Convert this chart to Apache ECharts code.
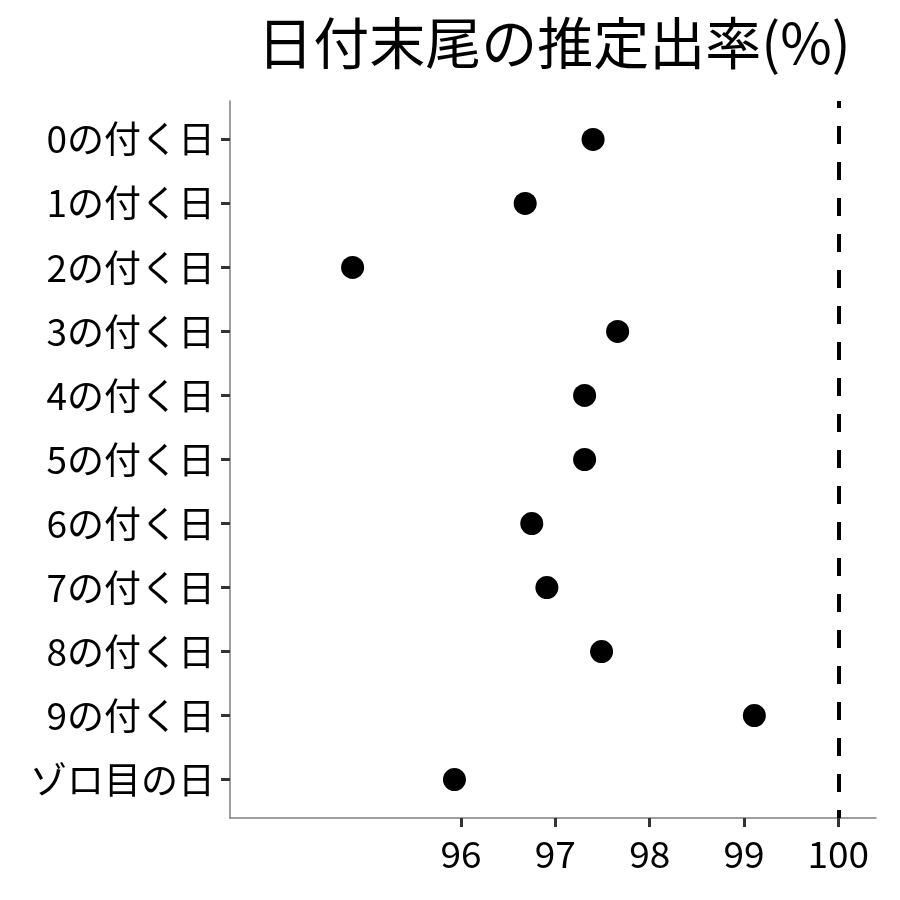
<!DOCTYPE html>
<html>
<head>
<meta charset="utf-8">
<script src="https://cdn.jsdelivr.net/npm/echarts@6/dist/echarts.min.js"></script>
<style>
  html, body { margin: 0; padding: 0; background: #fff; }
  #chart { width: 900px; height: 900px; }
</style>
</head>
<body>
<div id="chart"></div>
<script>
// 日付末尾ごとの推定出率
var categories = ['0の付く日', '1の付く日', '2の付く日', '3の付く日', '4の付く日',
    '5の付く日', '6の付く日', '7の付く日', '8の付く日', '9の付く日', 'ゾロ目の日'];
var rates = [97.40, 96.68, 94.85, 97.66, 97.31, 97.31, 96.75, 96.91, 97.49, 99.11, 95.93];
var xTicks = [96, 97, 98, 99, 100];
var refLine = 100;

var font = 'Noto Sans CJK JP';
var chart = echarts.init(document.getElementById('chart'));

var points = rates.map(function (v, i) { return [v, i]; });
var yTicks = categories.map(function (c, i) { return i; });

chart.setOption({
    animation: false,
    title: {
        text: '日付末尾の推定出率(%)',
        left: 549,
        top: 10,
        textAlign: 'center',
        textStyle: { fontFamily: font, fontSize: 56, fontWeight: 'normal', color: '#000' }
    },
    grid: { left: 230, right: 24, top: 101, bottom: 82 },
    xAxis: {
        type: 'value',
        min: 93.55,
        max: 100.4,
        splitLine: { show: false },
        axisLine: { show: true, onZero: false, lineStyle: { color: '#7f7f7f', width: 1.5 } },
        axisTick: { show: true, customValues: xTicks, length: 9, lineStyle: { color: '#333', width: 3 } },
        axisLabel: {
            customValues: xTicks, margin: 17,
            fontFamily: font, fontSize: 37, color: '#000'
        }
    },
    yAxis: {
        type: 'value',
        inverse: true,
        min: -0.6,
        max: 10.6,
        splitLine: { show: false },
        axisLine: { show: true, onZero: false, lineStyle: { color: '#7f7f7f', width: 1.5 } },
        axisTick: { show: true, customValues: yTicks, length: 9, lineStyle: { color: '#333', width: 3 } },
        axisLabel: {
            customValues: yTicks,
            margin: 15,
            fontFamily: font, fontSize: 37, color: '#000',
            formatter: function (v) { return categories[Math.round(v)]; }
        }
    },
    series: [{
        type: 'scatter',
        data: points,
        symbolSize: 23,
        itemStyle: { color: '#000', opacity: 1 },
        markLine: {
            silent: true,
            symbol: 'none',
            label: { show: false },
            lineStyle: { type: [18, 18], dashOffset: 11, color: '#000', width: 4 },
            data: [{ xAxis: refLine }]
        }
    }]
});
</script>
</body>
</html>
